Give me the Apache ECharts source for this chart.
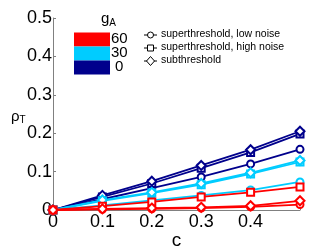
<!DOCTYPE html>
<html>
<head>
<meta charset="utf-8">
<script src="https://cdn.jsdelivr.net/npm/echarts@6/dist/echarts.min.js"></script>
<style>html,body{margin:0;padding:0;background:#fff}#c{width:332px;height:250px}</style>
</head>
<body>
<div id="c"></div>
<script>
var cValues = [0, 0.1, 0.2, 0.3, 0.4, 0.5];
var xTickLabels = ['0', '0.1', '0.2', '0.3', '0.4', ''];
var yTickLabels = ['0', '0.1', '0.2', '0.3', '0.4', '0.5'];
var gALevels = ['60', '30', '0'];
var markerTypes = ['superthreshold, low noise', 'superthreshold, high noise', 'subthreshold'];

// g_A = 0 (navy)
var g0Low  = [0, 0.028, 0.057, 0.086, 0.120, 0.158];
var g0High = [0, 0.034, 0.069, 0.109, 0.150, 0.198];
var g0Sub  = [0, 0.038, 0.075, 0.116, 0.157, 0.205];
// g_A = 30 (cyan)
var g30Low  = [0, 0.012, 0.025, 0.038, 0.052, 0.073];
var g30High = [0, 0.024, 0.044, 0.066, 0.094, 0.125];
var g30Sub  = [0, 0.026, 0.046, 0.069, 0.097, 0.129];
// g_A = 60 (red)
var g60Low  = [0, 0.002, 0.003, 0.005, 0.008, 0.014];
var g60High = [0, 0.010, 0.021, 0.034, 0.046, 0.060];
var g60Sub  = [0, 0.003, 0.005, 0.007, 0.011, 0.024];

var colors = {'0': '#00008C', '30': '#00CCFF', '60': '#FF0000'};
var symbols = ['emptyCircle', 'emptyRect', 'emptyDiamond'];
var font = 'Liberation Sans, Arial, sans-serif';

function pairs(ys) { return ys.map(function (y, i) { return [cValues[i], y]; }); }
function mk(name, ys, col, sym, z) {
  return {
    name: name, type: 'line', data: pairs(ys), symbol: sym,
    symbolSize: sym === 'emptyDiamond' ? 9 : 7,
    showAllSymbol: true, z: z,
    lineStyle: {color: col, width: 1.8},
    itemStyle: {color: col, borderColor: col, borderWidth: 1.8},
    emphasis: {disabled: true}, animation: false
  };
}

var series = [
  mk('0 low', g0Low, colors['0'], symbols[0], 2),
  mk('0 high', g0High, colors['0'], symbols[1], 2),
  mk('0 sub', g0Sub, colors['0'], symbols[2], 2),
  mk('30 low', g30Low, colors['30'], symbols[0], 3),
  mk('30 high', g30High, colors['30'], symbols[1], 3),
  mk('30 sub', g30Sub, colors['30'], symbols[2], 3),
  mk('60 low', g60Low, colors['60'], symbols[0], 4),
  mk('60 high', g60High, colors['60'], symbols[1], 4),
  mk('60 sub', g60Sub, colors['60'], symbols[2], 4)
];

var graphics = [];
// colour block legend
var blockCols = [colors['60'], colors['30'], colors['0']];
var blockY = [32.5, 46.5, 60.5];
for (var i = 0; i < 3; i++) {
  graphics.push({type: 'rect', left: 74, top: blockY[i], shape: {width: 36, height: 14}, style: {fill: blockCols[i]}, z: 10});
  graphics.push({type: 'text', left: i === 2 ? 115 : 111, top: blockY[i] - 1.5, style: {text: gALevels[i], font: '15px ' + font, fill: '#000'}, z: 10});
}
graphics.push({type: 'text', left: 101, top: 11, style: {text: '{g|g}{s|A}', rich: {g: {font: '15px ' + font, fill: '#000'}, s: {font: '10px ' + font, fill: '#000', padding: [10, 0, 0, 0]}}}, z: 10});
// marker legend
var legY = [35, 48, 61];
var legSym = ['circle', 'rect', 'diamond'];
for (var j = 0; j < 3; j++) {
  graphics.push({type: 'line', shape: {x1: 144, y1: legY[j], x2: 157, y2: legY[j]}, style: {stroke: '#000', lineWidth: 1}, z: 10});
  if (legSym[j] === 'circle') {
    graphics.push({type: 'circle', shape: {cx: 150.5, cy: legY[j], r: 3}, style: {stroke: '#000', fill: '#fff', lineWidth: 1}, z: 11});
  } else if (legSym[j] === 'rect') {
    graphics.push({type: 'rect', shape: {x: 147.5, y: legY[j] - 3, width: 6, height: 6}, style: {stroke: '#000', fill: '#fff', lineWidth: 1}, z: 11});
  } else {
    graphics.push({type: 'polygon', shape: {points: [[150.5, legY[j] - 4.5], [154.5, legY[j]], [150.5, legY[j] + 4.5], [146.5, legY[j]]]}, style: {stroke: '#000', fill: '#fff', lineWidth: 1}, z: 11});
  }
  graphics.push({type: 'text', left: 161, top: legY[j] - 6.5, style: {text: markerTypes[j], font: '10.5px ' + font, fill: '#000'}, z: 10});
}
// y axis name
graphics.push({type: 'text', left: 11, top: 109, style: {text: '{r|ρ}{s|T}', rich: {r: {font: '15px ' + font, fill: '#000'}, s: {font: '10px ' + font, fill: '#000', padding: [8, 0, 0, 0]}}}, z: 10});

var chart = echarts.init(document.getElementById('c'), null, {renderer: 'canvas'});
chart.setOption({
  animation: false,
  grid: {left: 53, right: 32, top: 18, bottom: 40, outerBoundsMode: 'none', containLabel: false},
  xAxis: {
    type: 'value', min: 0, max: 0.5, interval: 0.1,
    name: 'c', nameLocation: 'middle', nameGap: 21, nameMoveOverlap: false,
    nameTextStyle: {fontSize: 19, fontFamily: font, color: '#000'},
    axisLine: {lineStyle: {color: '#808080', width: 1}},
    axisTick: {inside: true, length: 3, lineStyle: {color: '#808080'}},
    axisLabel: {fontSize: 18, fontFamily: font, color: '#000', margin: 3,
      formatter: function (v) { return xTickLabels[Math.round(v * 10)]; }},
    splitLine: {show: false}
  },
  yAxis: {
    type: 'value', min: 0, max: 0.5, interval: 0.1,
    axisLine: {show: true, lineStyle: {color: '#808080', width: 1}},
    axisTick: {show: true, inside: true, length: 3, lineStyle: {color: '#808080'}},
    axisLabel: {fontSize: 18, fontFamily: font, color: '#000', margin: 1,
      formatter: function (v) { return yTickLabels[Math.round(v * 10)]; }},
    splitLine: {show: false}
  },
  series: series,
  graphic: graphics
});
</script>
</body>
</html>
